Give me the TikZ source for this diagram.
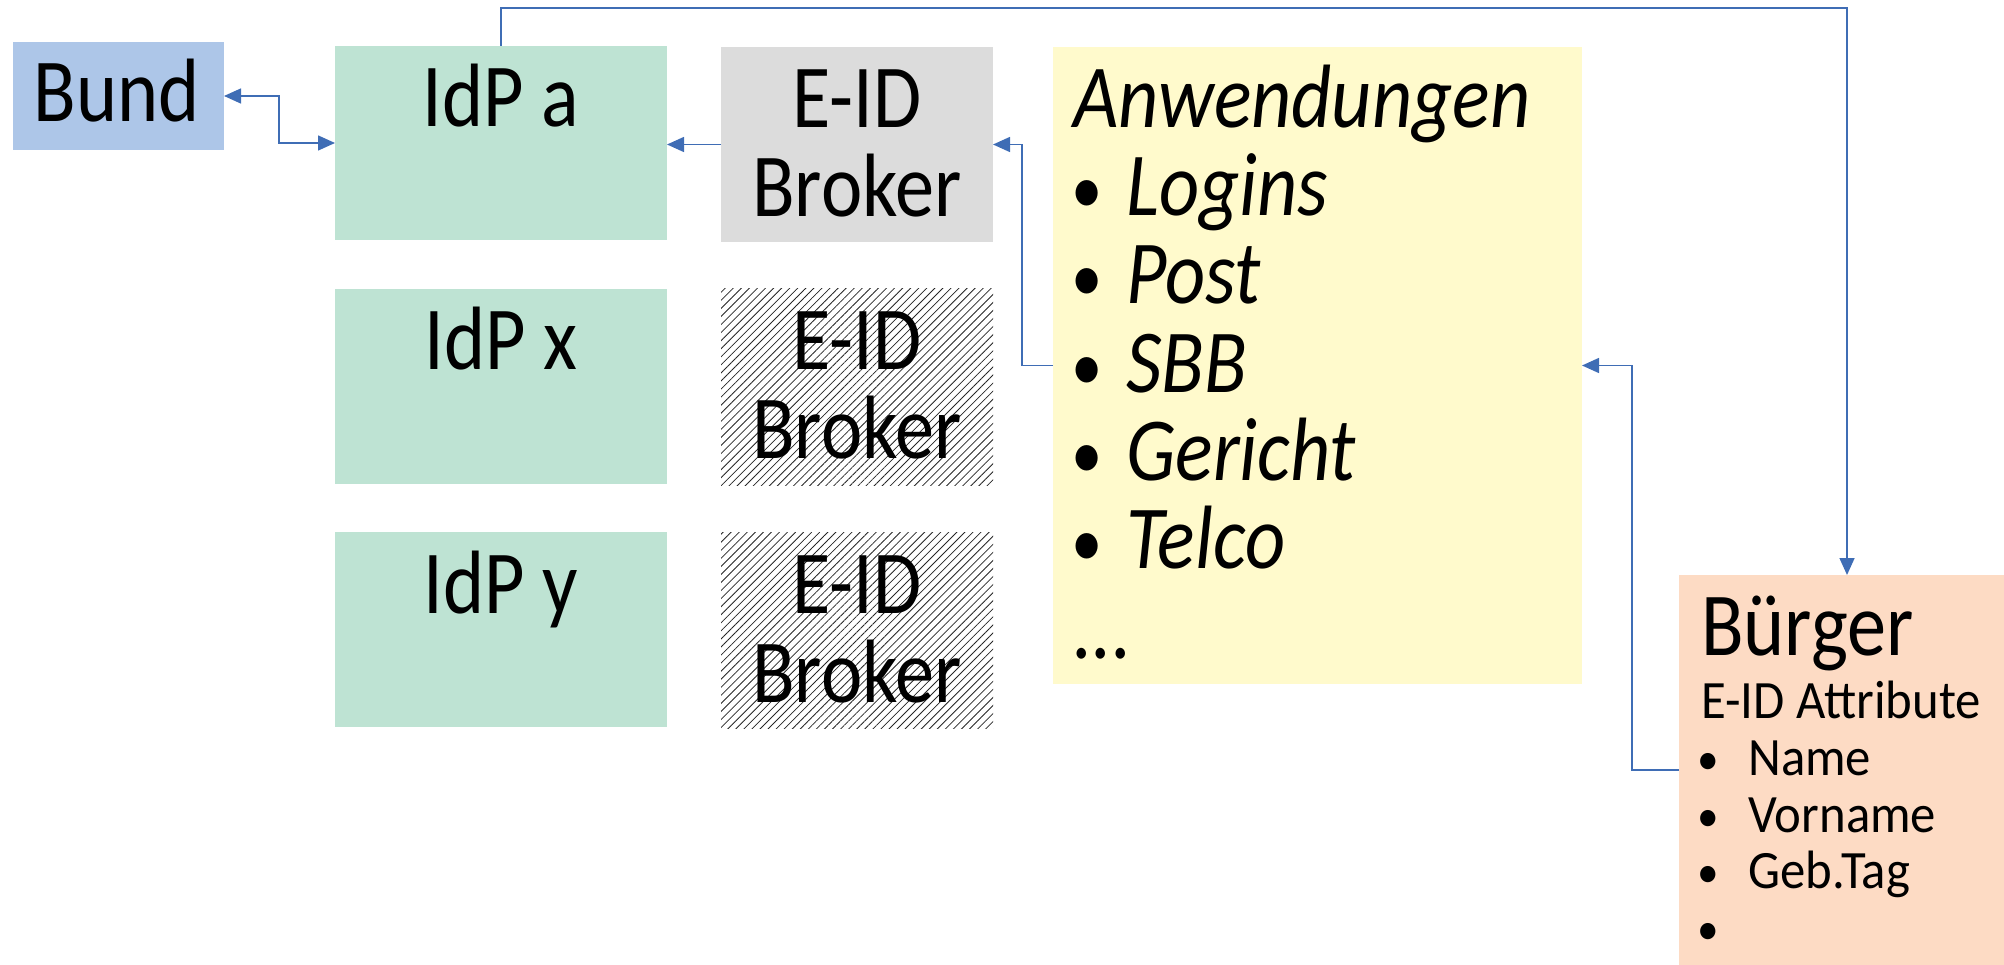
\documentclass[tikz,border=0pt]{standalone}
\usepackage{fontspec}
\setmainfont{Carlito}
\newfontfamily\bigf[FakeStretch=0.87]{Carlito}
\newfontfamily\smallf[FakeStretch=0.94]{Carlito}
\usetikzlibrary{arrows.meta,patterns.meta}
\definecolor{bundc}{HTML}{ADC6E8}
\definecolor{idpc}{HTML}{BEE3D3}
\definecolor{greyc}{HTML}{DCDCDC}
\definecolor{yellowc}{HTML}{FFFACC}
\definecolor{peachc}{HTML}{FDDBC4}
\definecolor{linec}{HTML}{3F6DB5}
\newcommand{\bigbul}{\makebox[58pt][l]{\hspace{3pt}\raisebox{2pt}{\fontsize{72}{72}\selectfont •}}}
\newcommand{\smallbul}{\makebox[53pt][l]{\hspace{2pt}\raisebox{1pt}{\fontsize{46}{46}\selectfont •}}}
\begin{document}
\begin{tikzpicture}[x=1pt,y=-1pt,
  >={Triangle[length=17pt,width=15pt]},
  box/.style={rectangle, inner sep=0pt, outer sep=0pt, anchor=north west},
  hatched/.style={box, pattern={Lines[angle=45,distance=5.7pt,line width=0.8pt]}, pattern color=black!85},
  big/.style={inner sep=0pt, font=\bigf\fontsize{90}{90}\selectfont},
  small/.style={inner sep=0pt, font=\smallf\fontsize{54}{56}\selectfont},
  conn/.style={draw=linec, line width=1.5pt, ->}
]
\useasboundingbox (0,0) rectangle (2004,965);
% boxes
\node[box, fill=bundc, minimum width=211pt, minimum height=108pt] (bund) at (13,42) {};
\node[box, fill=idpc, minimum width=332pt, minimum height=194pt] (idpa) at (335,46) {};
\node[box, fill=idpc, minimum width=332pt, minimum height=195pt] (idpx) at (335,289) {};
\node[box, fill=idpc, minimum width=332pt, minimum height=195pt] (idpy) at (335,532) {};
\node[box, fill=greyc, minimum width=272pt, minimum height=195pt] (broker1) at (721,47) {};
\node[hatched, minimum width=272pt, minimum height=196pt] (broker2) at (721,289) {};
\node[hatched, minimum width=272pt, minimum height=196pt] (broker3) at (721,532) {};
\node[box, fill=yellowc, minimum width=529pt, minimum height=637pt] (anw) at (1053,47) {};
\node[box, fill=peachc, minimum width=325pt, minimum height=390pt] (buerger) at (1679,575) {};
% texts
\node[big, anchor=base] (tbund) at (117,122) {Bund};
\node[big, anchor=base] (tidpa) at (501,127) {IdP a};
\node[big, anchor=base] (tidpx) at (501,370) {IdP x};
\node[big, anchor=base] (tidpy) at (501,613) {IdP y};
\node[big, anchor=base] (tb1a) at (857,128) {E-ID};
\node[big, anchor=base] (tb1b) at (857,217) {Broker};
\node[big, anchor=base] (tb2a) at (857,370) {E-ID};
\node[big, anchor=base] (tb2b) at (857,458) {Broker};
\node[big, anchor=base] (tb3a) at (857,613) {E-ID};
\node[big, anchor=base] (tb3b) at (857,702) {Broker};
\node[big, anchor=base west] (tanw) at (1073,128) {\itshape Anwendungen};
\node[big, anchor=base west] (tlog) at (1068,216) {\bigbul\itshape Logins};
\node[big, anchor=base west] (tpost) at (1068,304) {\bigbul\itshape Post};
\node[big, anchor=base west] (tsbb) at (1068,392) {\bigbul\itshape SBB};
\node[big, anchor=base west] (tger) at (1068,480) {\bigbul\itshape Gericht};
\node[big, anchor=base west] (ttel) at (1068,568) {\bigbul\itshape Telco};
\node[big, anchor=base west] (tdots) at (1073,658) {\itshape ...};
\node[big, anchor=base west] (tbue) at (1701,655) {Bürger};
\node[small, anchor=base west] (tattr) at (1701,718) {E-ID Attribute};
\node[small, anchor=base west] (tname) at (1695,775) {\smallbul Name};
\node[small, anchor=base west] (tvor) at (1695,832) {\smallbul Vorname};
\node[small, anchor=base west] (tgeb) at (1695,888) {\smallbul Geb.Tag};
\node[small, anchor=base west] (tmore) at (1695,945) {\smallbul};
% connectors
\draw[conn, <->] (bund.east) -- ++(55,0) |- (idpa.west);
\draw[conn] (broker1.west) -- (broker1.west -| idpa.east);
\draw[conn] (anw.west) -- ++(-31,0) |- (broker1.east);
\draw[conn] (buerger.west) -- ++(-47,0) |- (anw.east);
\draw[conn] (idpa.north) -- ++(0,-38) -| ([xshift=5.5pt]buerger.north);
\end{tikzpicture}
\end{document}
